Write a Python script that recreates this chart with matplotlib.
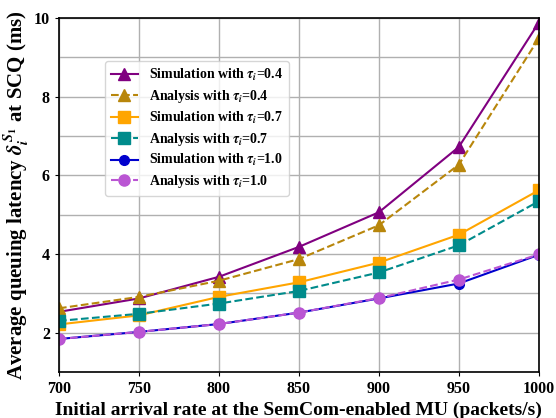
import matplotlib
matplotlib.use('Agg')
import matplotlib.pyplot as plt
from matplotlib.ticker import MultipleLocator

plt.rcParams['font.family'] = 'Liberation Serif'
plt.rcParams['font.weight'] = 'bold'
plt.rcParams['mathtext.fontset'] = 'stix'

# data
rates = [700, 750, 800, 850, 900, 950, 1000]
sim_04 = [2.53, 2.87, 3.42, 4.18, 5.06, 6.72, 9.88]
ana_04 = [2.62, 2.91, 3.32, 3.87, 4.73, 6.27, 9.48]
sim_07 = [2.21, 2.44, 2.91, 3.28, 3.78, 4.49, 5.62]
ana_07 = [2.30, 2.48, 2.74, 3.06, 3.53, 4.22, 5.34]
sim_10 = [1.84, 2.02, 2.22, 2.51, 2.87, 3.25, 3.98]
ana_10 = [1.84, 2.02, 2.22, 2.51, 2.88, 3.35, 3.99]

fig = plt.figure(figsize=(5.56, 4.18), dpi=100)
ax = fig.add_axes([0.106, 0.11, 0.863, 0.847])

ax.plot(rates, sim_04, '-', marker='^', color='#800080', ms=8, lw=1.5,
        label=r'Simulation with $\tau_i$=0.4')
ax.plot(rates, ana_04, '--', marker='^', color='#B8860B', ms=8, lw=1.5,
        label=r'Analysis with $\tau_i$=0.4')
ax.plot(rates, sim_07, '-', marker='s', color='#FFA500', ms=8, lw=1.5,
        label=r'Simulation with $\tau_i$=0.7')
ax.plot(rates, ana_07, '--', marker='s', color='#008B8B', ms=8, lw=1.5,
        label=r'Analysis with $\tau_i$=0.7')
ax.plot(rates, sim_10, '-', marker='o', color='#0000CD', ms=7, lw=1.5,
        label=r'Simulation with $\tau_i$=1.0')
ax.plot(rates, ana_10, '--', marker='o', color='#BA55D3', ms=8, lw=1.5,
        label=r'Analysis with $\tau_i$=1.0')

ax.set_xlim(700, 1000)
ax.set_ylim(1, 10)
ax.xaxis.set_major_locator(MultipleLocator(50))
ax.yaxis.set_major_locator(MultipleLocator(2))
ax.yaxis.set_minor_locator(MultipleLocator(1))
ax.grid(True, which='both', color='#b0b0b0', lw=1)
ax.tick_params(labelsize=11.5, length=3)
ax.tick_params(which='minor', length=0)
for sp in ax.spines.values():
    sp.set_linewidth(1.2)

ax.set_xlabel('Initial arrival rate at the SemCom-enabled MU (packets/s)',
              fontsize=14, fontweight='bold', labelpad=3)
ax.set_ylabel(r'Average queuing latency $\delta_i^{S_1}$ at SCQ (ms)',
              fontsize=15, fontweight='bold', labelpad=2)

ax.legend(loc='upper left', bbox_to_anchor=(0.096, 0.878), fontsize=10,
          handlelength=2.0, labelspacing=0.35, borderaxespad=0)

fig.savefig('out.png', dpi=100)
